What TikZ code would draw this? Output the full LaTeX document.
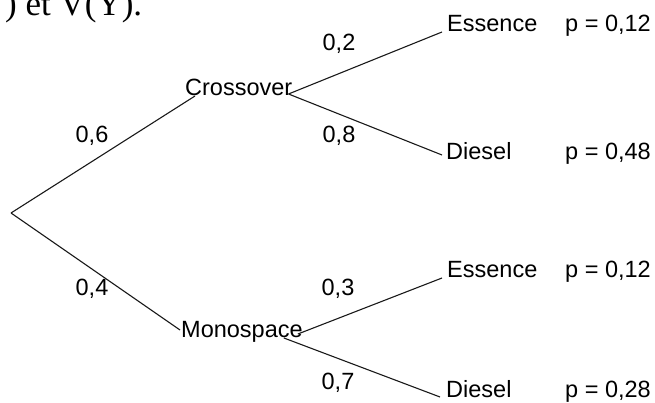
\documentclass[tikz,border=0pt]{standalone}
\usepackage{fontspec}
\setmainfont{Liberation Sans}
\newfontfamily\headserif{Liberation Serif}
\begin{document}
\begin{tikzpicture}[x=1pt,y=1pt,
  lab/.style={font=\fontsize{23.5}{28}\selectfont, inner sep=0pt, text=black},
  head/.style={font=\headserif\fontsize{35}{40}\selectfont, inner sep=0pt, text=black},
  branch/.style={line width=1.1pt, draw=black!90}]
\useasboundingbox (0,0) rectangle (655,403);

% tail of the preceding line of text, cut by the top edge
\begin{scope}
  \clip (0,0) rectangle (655,403);
  \node[head, anchor=base west] (prevline) at (5,387) {) et V(Y).};
\end{scope}

% tree nodes
\coordinate (root) at (11,190);
\node[lab, anchor=base west] (cross) at (185,307) {Crossover};
\node[lab, anchor=base west] (mono)  at (181,65)  {Monospace};
\node[lab, anchor=base west] (ess1)  at (447,371) {Essence};
\node[lab, anchor=base west] (die1)  at (446,243) {Diesel};
\node[lab, anchor=base west] (ess2)  at (447,125) {Essence};
\node[lab, anchor=base west] (die2)  at (446,5)   {Diesel};

% leaf probabilities
\node[lab, anchor=base west] (p1) at (565,371) {p = 0,12};
\node[lab, anchor=base west] (p2) at (565,243) {p = 0,48};
\node[lab, anchor=base west] (p3) at (565,125) {p = 0,12};
\node[lab, anchor=base west] (p4) at (565,5)   {p = 0,28};

% branches
\draw[branch] (root) -- ([xshift=10pt]cross.base west);
\draw[branch] (root) -- ([xshift=-1pt,yshift=8pt]mono.base west);
\draw[branch] ([xshift=-4pt,yshift=2pt]cross.base east) -- ([xshift=-5pt]ess1.base west);
\draw[branch] ([xshift=-4pt,yshift=2pt]cross.base east) -- ([xshift=-4pt,yshift=5pt]die1.base west);
\draw[branch] ([xshift=-5pt,yshift=4pt]mono.base east) -- ([xshift=-5pt]ess2.base west);
\draw[branch] ([xshift=-19pt]mono.base east) -- ([xshift=-6pt,yshift=1pt]die2.base west);

% branch weights
\node[lab, anchor=base] (w1) at (92,260)  {0,6};
\node[lab, anchor=base] (w2) at (92,107)  {0,4};
\node[lab, anchor=base] (w3) at (339,352) {0,2};
\node[lab, anchor=base] (w4) at (339,260) {0,8};
\node[lab, anchor=base] (w5) at (338,107) {0,3};
\node[lab, anchor=base] (w6) at (338,13)  {0,7};
\end{tikzpicture}
\end{document}
